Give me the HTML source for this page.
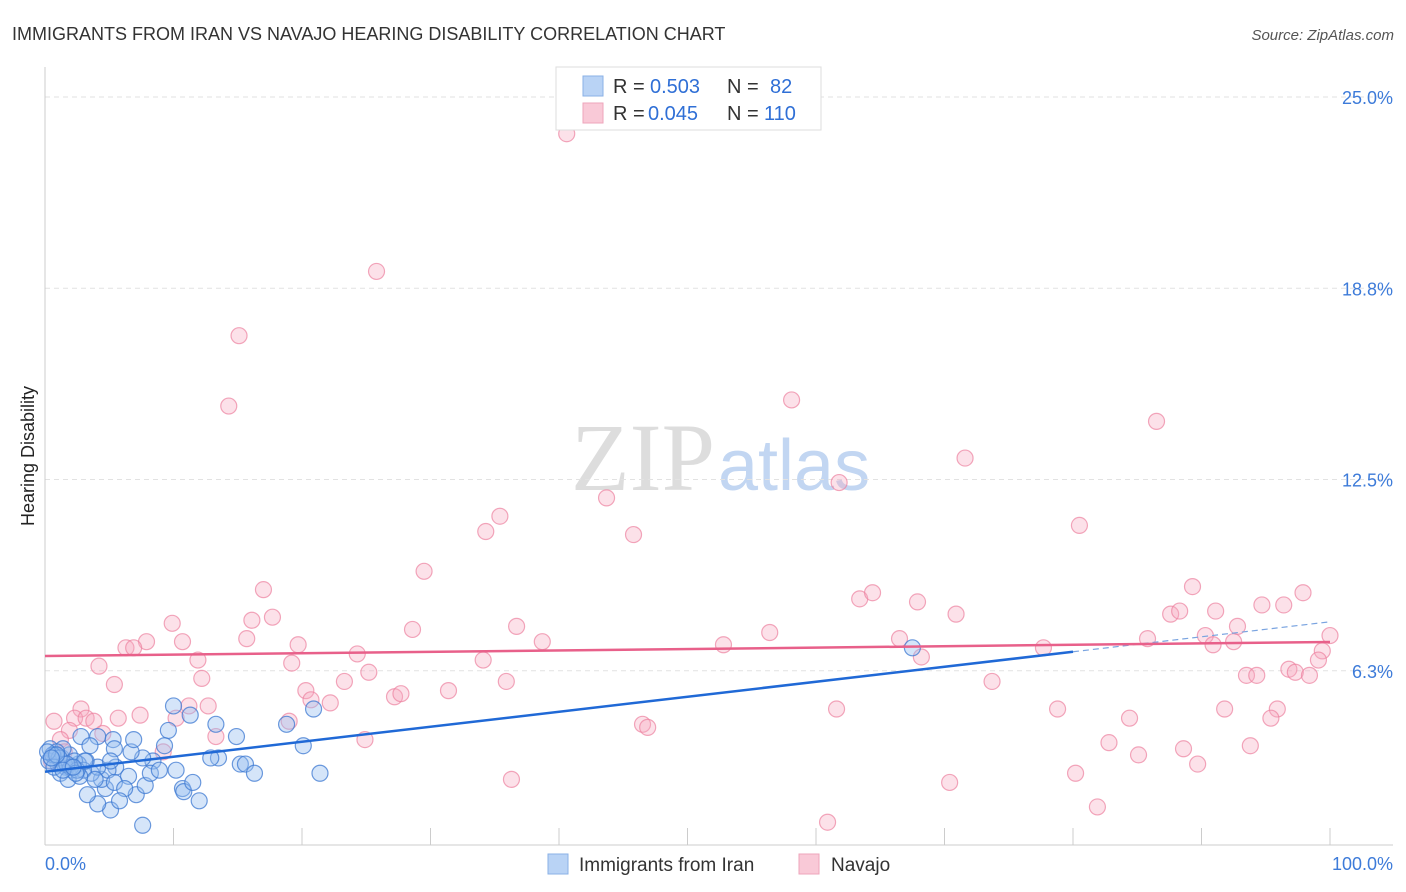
<!DOCTYPE html>
<html><head><meta charset="utf-8"><style>
body{margin:0;background:#fff;font-family:"Liberation Sans",sans-serif}
svg{display:block}
</style></head><body>
<svg id="c" width="1406" height="892" xmlns="http://www.w3.org/2000/svg">
<text x="12" y="40" font-size="18" fill="#333">IMMIGRANTS FROM IRAN VS NAVAJO HEARING DISABILITY CORRELATION CHART</text>
<text x="1394" y="40" font-size="15" fill="#555" font-style="italic" text-anchor="end">Source: ZipAtlas.com</text>
<text x="34" y="456" font-size="18" fill="#222" text-anchor="middle" transform="rotate(-90 34 456)">Hearing Disability</text>
<text x="715" y="490" font-size="96" fill="#ddd" font-family="Liberation Serif,serif" text-anchor="end">ZIP</text>
<text x="718" y="490" font-size="72" fill="#c2d6f2">atlas</text>
<g id="grid"></g><g id="pts"></g><g id="lines"></g>
<g>
<rect x="556" y="67" width="265" height="63" fill="#fff" stroke="#ddd"/>
<rect x="583" y="76" width="20" height="20" fill="#b9d3f5" stroke="#8ab0e6"/>
<rect x="583" y="103" width="20" height="20" fill="#f9c9d7" stroke="#eea5bb"/>
<text x="613" y="93" font-size="20" fill="#333">R =</text><text x="650" y="93" font-size="20" fill="#2f6fd6">0.503</text>
<text x="727" y="93" font-size="20" fill="#333">N =</text><text x="770" y="93" font-size="20" fill="#2f6fd6">82</text>
<text x="613" y="120" font-size="20" fill="#333">R =</text><text x="648" y="120" font-size="20" fill="#2f6fd6">0.045</text>
<text x="727" y="120" font-size="20" fill="#333">N =</text><text x="764" y="120" font-size="20" fill="#2f6fd6">110</text>
</g>
<g>
<rect x="548" y="854" width="20" height="20" fill="#b9d3f5" stroke="#8ab0e6"/>
<text x="579" y="871" font-size="19" fill="#333">Immigrants from Iran</text>
<rect x="799" y="854" width="20" height="20" fill="#f9c9d7" stroke="#eea5bb"/>
<text x="831" y="871" font-size="19" fill="#333">Navajo</text>
</g>
</svg>
<script>
const yTicks=[6.3,12.5,18.8,25.0];
const yTickVals=[6.25,12.5,18.75,25];
const xLabels=["0.0%","100.0%"];
const iranX=[67.5,10.0,11.3,20.9,18.8,13.3,9.6,14.9,9.3,20.1,13.5,12.9,15.2,15.6,16.3,21.4,8.4,10.2,7.6,6.7,5.3,5.4,4.1,2.8,6.9,7.6,12.0,10.7,10.8,11.5,6.5,7.1,7.8,5.1,4.1,3.3,4.7,4.4,5.5,4.9,3.6,4.1,3.2,2.6,2.1,1.6,1.0,0.5,0.4,0.8,1.3,1.9,2.3,3.0,1.2,1.8,2.7,3.9,5.4,6.2,8.2,1.4,3.5,5.1,8.9,5.8,0.9,0.3,0.6,1.5,2.0,2.5,1.1,0.2,0.7,1.7,2.4,3.1,0.9,1.4,2.2,0.5];
const iranY=[7.0,5.1,4.8,5.0,4.5,4.5,4.3,4.1,3.8,3.8,3.4,3.4,3.2,3.2,2.9,2.9,3.3,3.0,3.4,3.6,4.0,3.7,4.1,4.1,4.0,1.2,2.0,2.4,2.3,2.6,2.8,2.2,2.5,1.7,1.9,2.2,2.4,2.7,3.1,3.0,2.9,3.1,3.3,3.2,3.0,3.1,3.2,3.4,3.7,3.5,3.4,3.5,3.3,3.0,2.9,2.7,2.8,2.7,2.6,2.4,2.9,3.7,3.8,3.3,3.0,2.0,3.6,3.3,3.5,3.2,3.1,3.0,3.4,3.6,3.1,3.2,2.9,3.3,3.5,3.0,3.1,3.4];
const navX=[40.6,25.8,15.1,14.3,58.1,86.5,71.6,61.8,43.7,35.4,34.3,45.8,80.5,29.5,17.0,89.3,97.9,63.4,64.4,67.9,94.7,96.4,70.9,87.6,88.3,91.1,17.7,16.1,9.9,36.7,28.6,92.8,56.4,7.9,10.7,15.7,19.7,6.3,6.9,38.7,52.8,66.5,85.8,90.3,92.5,100,90.9,77.7,99.4,24.3,68.2,11.9,19.2,34.1,99.1,4.2,96.8,97.3,98.4,25.2,93.5,94.3,12.2,23.3,35.9,5.4,73.7,20.3,31.4,27.2,27.7,20.7,22.2,2.8,11.2,12.7,61.6,78.8,91.8,95.9,5.7,7.4,0.7,2.3,3.2,3.8,10.2,19.0,84.4,95.4,1.9,4.5,46.5,46.9,13.3,24.9,1.2,82.8,93.8,88.6,9.2,85.1,89.7,80.2,36.3,70.4,81.9,60.9,0.5,1.5];
const navY=[23.8,19.3,17.2,14.9,15.1,14.4,13.2,12.4,11.9,11.3,10.8,10.7,11.0,9.5,8.9,9.0,8.8,8.6,8.8,8.5,8.4,8.4,8.1,8.1,8.2,8.2,8.0,7.9,7.8,7.7,7.6,7.7,7.5,7.2,7.2,7.3,7.1,7.0,7.0,7.2,7.1,7.3,7.3,7.4,7.2,7.4,7.1,7.0,6.9,6.8,6.7,6.6,6.5,6.6,6.6,6.4,6.3,6.2,6.1,6.2,6.1,6.1,6.0,5.9,5.9,5.8,5.9,5.6,5.6,5.4,5.5,5.3,5.2,5.0,5.1,5.1,5.0,5.0,5.0,5.0,4.7,4.8,4.6,4.7,4.7,4.6,4.7,4.6,4.7,4.7,4.3,4.2,4.5,4.4,4.1,4.0,4.0,3.9,3.8,3.7,3.6,3.5,3.2,2.9,2.7,2.6,1.8,1.3,3.3,3.6];
const iranTrend=[2.95,6.87,7.85];
const navTrend=[6.73,7.19];
const NS="http://www.w3.org/2000/svg";
const X=v=>45+v*12.85, Y=v=>862-v*30.6;
function mk(t,a,p){const e=document.createElementNS(NS,t);for(const k in a)e.setAttribute(k,a[k]);p.appendChild(e);return e;}
const g=document.getElementById('grid');
yTickVals.forEach((v,i)=>{
 const l=mk('line',{x1:45,x2:1393,y1:Y(v),y2:Y(v),stroke:'#e2e2e2','stroke-dasharray':'5,4'},g);
 
 
 const t=mk('text',{x:1393,y:Y(v)+7,'font-size':18,fill:'#3d7bd9','text-anchor':'end'},g);
 t.textContent=yTicks[i].toFixed(1)+'%';
 
 
});
const ax=mk('line',{x1:45,x2:45,y1:67,y2:845,stroke:'#ccc'},g);


const bx=mk('line',{x1:45,x2:1393,y1:845,y2:845,stroke:'#ccc'},g);


for(let i=0;i<=10;i++){const tk=mk('line',{x1:X(i*10),x2:X(i*10),y1:828,y2:845,stroke:'#ccc'},g);
 
 }
[[X(0),'start',xLabels[0]],[1393,'end',xLabels[1]]].forEach(a=>{const t=mk('text',{x:a[0],y:870,'font-size':18,fill:'#3d7bd9','text-anchor':a[1]},g);t.textContent=a[2];
 
 });
const p=document.getElementById('pts');
navX.forEach((v,i)=>{const c=mk('circle',{cx:X(v),cy:Y(navY[i]),r:8,fill:'rgba(246,170,192,0.35)',stroke:'rgba(236,130,160,0.7)','stroke-width':1.2},p);
 
 });
iranX.forEach((v,i)=>{const c=mk('circle',{cx:X(v),cy:Y(iranY[i]),r:8,fill:'rgba(150,190,240,0.4)',stroke:'rgba(60,120,210,0.75)','stroke-width':1.2},p);
 
 });
const L=document.getElementById('lines');
const l1=mk('line',{x1:X(0),y1:Y(iranTrend[0]),x2:X(80),y2:Y(iranTrend[1]),stroke:'#2069d6','stroke-width':2.5},L);


const l2=mk('line',{x1:X(80),y1:Y(iranTrend[1]),x2:X(100),y2:Y(iranTrend[2]),stroke:'#7aa4e0','stroke-width':1.2,'stroke-dasharray':'6,4'},L);


const l3=mk('line',{x1:X(0),y1:Y(navTrend[0]),x2:X(100),y2:Y(navTrend[1]),stroke:'#e8608a','stroke-width':2.5},L);


</script>
</body></html>
